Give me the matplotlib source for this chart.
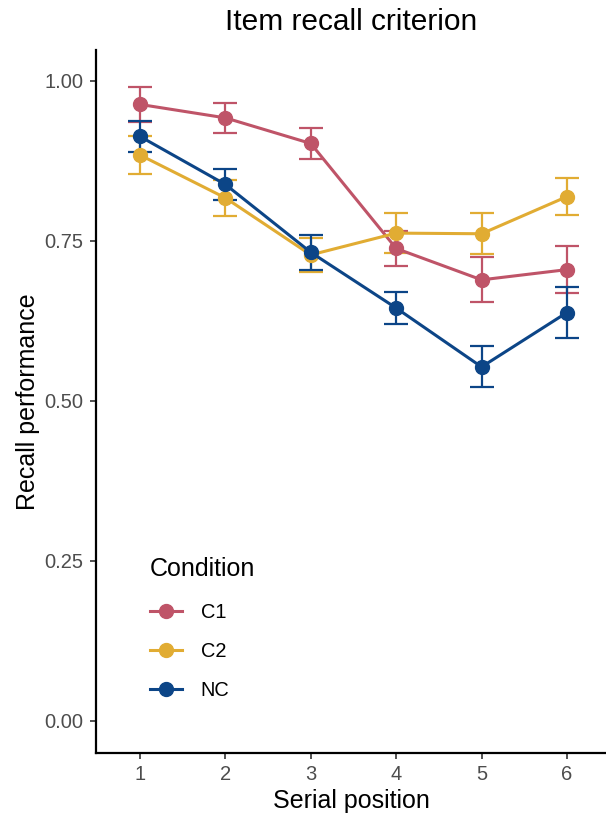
import matplotlib
matplotlib.use("Agg")
import matplotlib.pyplot as plt

plt.rcParams['font.family'] = ['Liberation Sans', 'DejaVu Sans']

positions = [1, 2, 3, 4, 5, 6]
conditions = ["C1", "C2", "NC"]
colors = {"C1": "#BF5468", "C2": "#E1AC33", "NC": "#0C4587"}

c1_mean = [0.963, 0.942, 0.902, 0.738, 0.689, 0.705]
c1_err = [0.027, 0.023, 0.024, 0.027, 0.035, 0.037]
c2_mean = [0.884, 0.817, 0.728, 0.762, 0.761, 0.819]
c2_err = [0.029, 0.028, 0.027, 0.031, 0.032, 0.029]
nc_mean = [0.913, 0.838, 0.732, 0.645, 0.553, 0.638]
nc_err = [0.024, 0.024, 0.027, 0.025, 0.032, 0.040]

means = {"C1": c1_mean, "C2": c2_mean, "NC": nc_mean}
errs = {"C1": c1_err, "C2": c2_err, "NC": nc_err}

yticks = [0.00, 0.25, 0.50, 0.75, 1.00]
ytick_labels = ["0.00", "0.25", "0.50", "0.75", "1.00"]

fig = plt.figure(figsize=(6.06, 8.18), dpi=100)
ax = fig.add_axes([96/606, 1-753/818, 1-96/606, (753-50)/818])

handles = []
for c in conditions:
    ax.errorbar(positions, means[c], yerr=errs[c], color=colors[c], fmt='none',
                elinewidth=1.6, capsize=8.5, capthick=1.6, zorder=2)
    h, = ax.plot(positions, means[c], color=colors[c], lw=2.2, marker='o',
                 markersize=10, zorder=3, label=c)
    handles.append(h)

ax.set_xlim(0.485, 6.457)
ax.set_ylim(-0.05, 1.048)
ax.set_xticks(positions)
ax.set_xticklabels([str(p) for p in positions])
ax.set_yticks(yticks)
ax.set_yticklabels(ytick_labels)

for s in ['top', 'right']:
    ax.spines[s].set_visible(False)
for s in ['left', 'bottom']:
    ax.spines[s].set_linewidth(1.6)
    ax.spines[s].set_color('black')
ax.tick_params(axis='both', direction='out', length=4, width=1.2, color='#333333',
               labelsize=14.5, labelcolor='#4D4D4D')
ax.tick_params(axis='y', pad=5)
ax.tick_params(axis='x', pad=4.5)

ax.set_xlabel("Serial position", fontsize=18, labelpad=3.5)
ax.set_ylabel("Recall performance", fontsize=18, labelpad=3)
ax.set_title("Item recall criterion", fontsize=21.5, pad=14.5)

leg = ax.legend(handles=handles, title="Condition", loc='lower left',
                bbox_to_anchor=(0.078, 0.055), frameon=False, fontsize=14.4,
                title_fontsize=18, handlelength=1.6, labelspacing=1.0,
                handletextpad=0.95, alignment='left', borderaxespad=0.3)
leg._legend_box.sep = 16

fig.savefig("out.png", dpi=100)
